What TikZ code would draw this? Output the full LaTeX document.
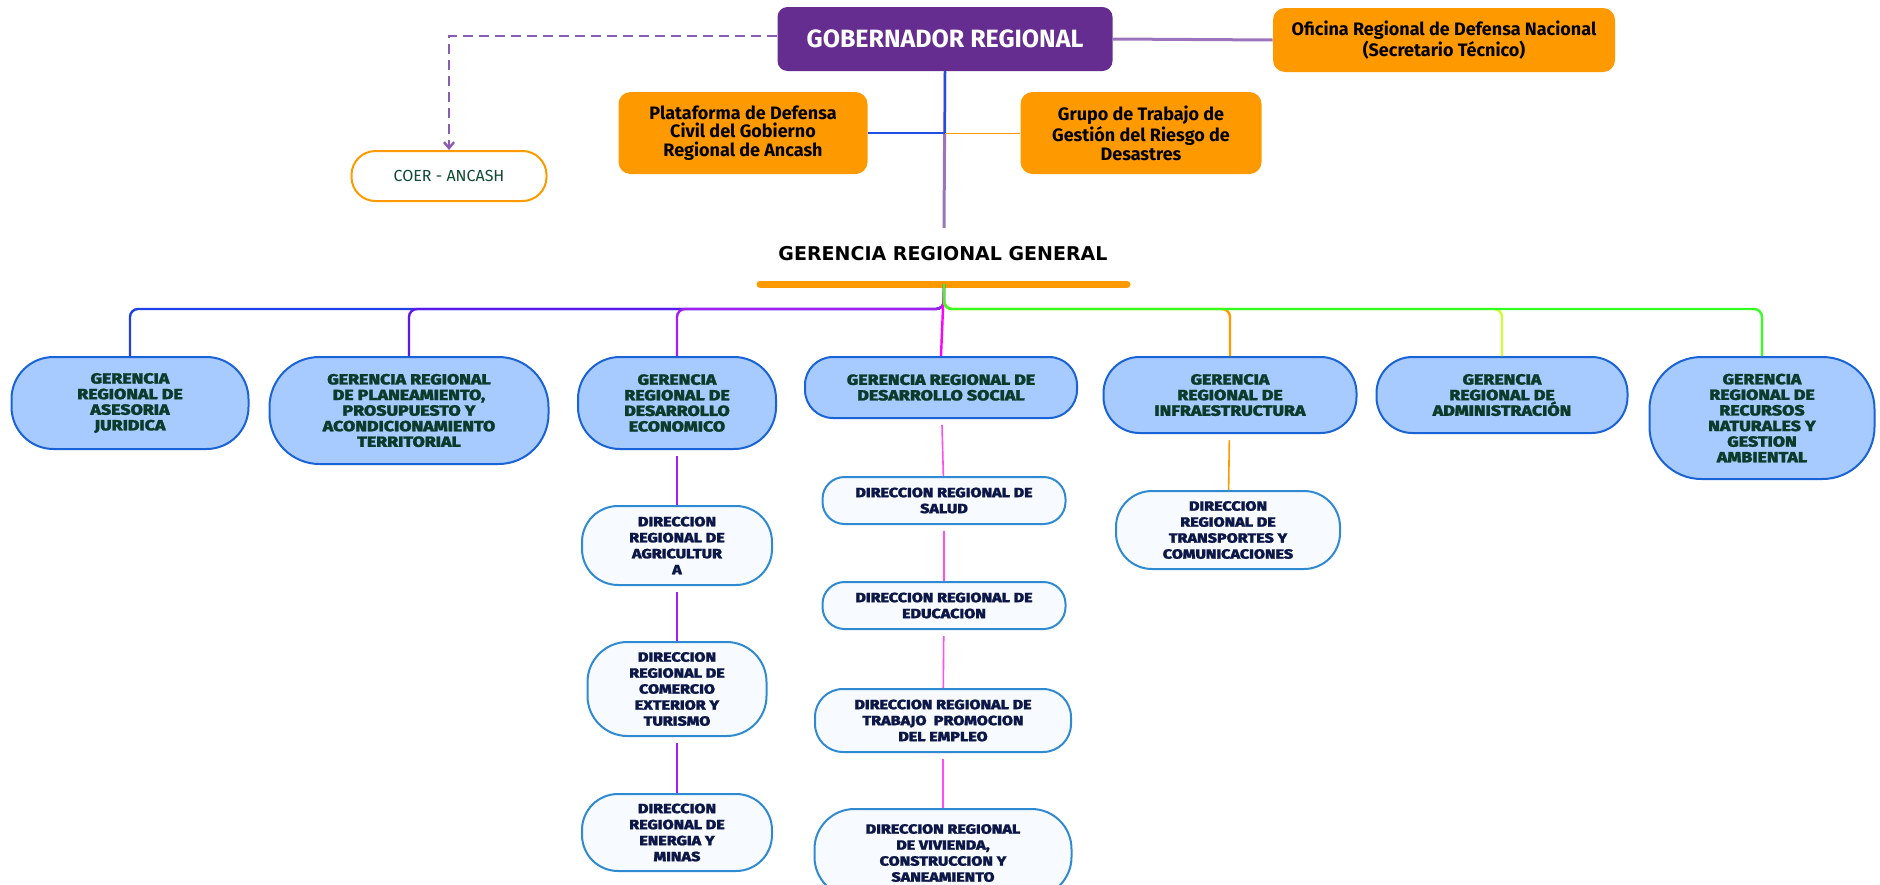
\documentclass[tikz,border=0pt]{standalone}
\usepackage{fontspec}
\setmainfont{Fira Sans}
\newfontfamily\heavyfont{Fira Sans ExtraBold}[FakeStretch=1.2, FakeBold=1.5]
\newfontfamily\titlefont{DejaVu Sans}
\usetikzlibrary{arrows.meta,positioning}

\definecolor{govpurple}{HTML}{662D91}
\definecolor{boxorange}{HTML}{FF9900}
\definecolor{linkpurple}{HTML}{9B74BD}
\definecolor{dashpurple}{HTML}{8A5CB3}
\definecolor{linkblue}{HTML}{1F4FE0}
\definecolor{gerfill}{HTML}{A8CBFF}
\definecolor{gerborder}{HTML}{1A63D6}
\definecolor{gertext}{HTML}{0B3B2A}
\definecolor{dirfill}{HTML}{F7FBFF}
\definecolor{dirborder}{HTML}{2F8AD2}
\definecolor{dirtext}{HTML}{0C1747}
\definecolor{coertext}{HTML}{0E4A32}
\definecolor{busA}{HTML}{2040E6}
\definecolor{busB}{HTML}{5A18EE}
\definecolor{busC}{HTML}{A21EF2}
\definecolor{busD}{HTML}{FF00FF}
\definecolor{busF}{HTML}{CCFF33}
\definecolor{busG}{HTML}{33FF22}
\definecolor{dirpink}{HTML}{FF4FF0}

\tikzset{
  orangebox/.style={fill=boxorange, rounded corners=6pt, align=center, inner sep=2pt,
    font=\bfseries\fontsize{9}{9.4}\selectfont},
  gerbox/.style={draw=gerborder, line width=1pt, fill=gerfill, align=center, inner sep=1pt,
    text=gertext, anchor=north, font=\heavyfont\fontsize{7.4}{7.8}\selectfont},
  dirbox/.style={draw=dirborder, line width=1pt, fill=dirfill, align=center, inner sep=1pt,
    text=dirtext, anchor=north, font=\heavyfont\fontsize{6.7}{8}\selectfont},
  buslink/.style={line width=1.2pt, rounded corners=4pt},
  dirlink/.style={line width=0.8pt, shorten <=3pt}
}

\begin{document}
\begin{tikzpicture}[x=0.5pt,y=-0.5pt]
  \useasboundingbox (0,0) rectangle (1880,884);

  % Top level
  \node[fill=govpurple, rounded corners=5pt, minimum width=167.5pt, minimum height=32pt,
    text=white, font=\bfseries\fontsize{12.5}{14}\selectfont] (gob) at (945,39) {GOBERNADOR REGIONAL};
  \node[orangebox, minimum width=171pt, minimum height=32pt] (oficina) at (1444,40)
    {Oficina Regional de Defensa Nacional\\(Secretario Técnico)};
  \node[draw=boxorange, line width=1pt, fill=white, rounded corners=12pt, minimum width=97.5pt,
    minimum height=25pt, text=coertext, font=\fontsize{8}{10}\selectfont] (coer) at (449,176) {COER - ANCASH};
  \node[orangebox, minimum width=124.5pt, minimum height=41pt] (plataforma) at (743,133)
    {Plataforma de Defensa\\Civil del Gobierno\\Regional de Ancash};
  \node[orangebox, minimum width=120.5pt, minimum height=41pt] (grupo) at (1141,133)
    {Grupo de Trabajo de\\Gestión del Riesgo de\\Desastres};
  \node[font=\titlefont\bfseries\fontsize{9.5}{11}\selectfont] (general) at (943,254) {GERENCIA REGIONAL GENERAL};

  \coordinate (trunkend) at (944,228);
  \coordinate (barL) at (760,284);
  \coordinate (barR) at (1127,284);
  \coordinate (root) at (944,284);
  \coordinate (bus) at (944,309);

  % links from the governor
  \draw[linkpurple, line width=1.5pt] (gob.east) -- (oficina.west);
  \draw[dashpurple, line width=1.2pt, dash pattern=on 5pt off 3pt, -{Straight Barb[length=3pt,width=5pt]}]
    ([yshift=1.5pt]gob.west) -| (coer.north);
  \draw[linkpurple, line width=1.5pt] (gob.south) -- (trunkend);
  \draw[linkblue, line width=0.8pt] (gob.south) -- (gob.south |- plataforma.east) -- (plataforma.east);
  \draw[boxorange, line width=0.5pt] (gob.south |- grupo.west) -- (grupo.west);
  \draw[boxorange, line width=3.5pt, line cap=round] (barL) -- (barR);

  % Gerencias
  \node[gerbox, minimum width=118.5pt, minimum height=46pt, rounded corners=21pt] (asesoria) at (130,356)
    {GERENCIA\\REGIONAL DE\\ASESORIA\\JURIDICA};
  \node[gerbox, minimum width=139.5pt, minimum height=53.5pt, rounded corners=25pt] (planeamiento) at (409,356)
    {GERENCIA REGIONAL\\DE PLANEAMIENTO,\\PROSUPUESTO Y\\ACONDICIONAMIENTO\\TERRITORIAL};
  \node[gerbox, minimum width=99pt, minimum height=46pt, rounded corners=21pt] (economico) at (677,356)
    {GERENCIA\\REGIONAL DE\\DESARROLLO\\ECONOMICO};
  \node[gerbox, minimum width=136pt, minimum height=30.5pt, rounded corners=14pt] (social) at (941,356)
    {GERENCIA REGIONAL DE\\DESARROLLO SOCIAL};
  \node[gerbox, minimum width=126.5pt, minimum height=38pt, rounded corners=18pt] (infraestructura) at (1230,356)
    {GERENCIA\\REGIONAL DE\\INFRAESTRUCTURA};
  \node[gerbox, minimum width=125.5pt, minimum height=38pt, rounded corners=18pt] (administracion) at (1502,356)
    {GERENCIA\\REGIONAL DE\\ADMINISTRACIÓN};
  \node[gerbox, minimum width=112.5pt, minimum height=61pt, rounded corners=26pt] (recursos) at (1762,356)
    {GERENCIA\\REGIONAL DE\\RECURSOS\\NATURALES Y\\GESTION\\AMBIENTAL};

  % bus
  \draw[buslink, busA] (root) -- (bus) -| (asesoria.north);
  \draw[buslink, busB] (root) -- (bus) -| (planeamiento.north);
  \draw[buslink, busC] (root) -- (bus) -| (economico.north);
  \draw[buslink, busD] (root) -- (social.north);
  \draw[buslink, boxorange] (root) -- (bus) -| (infraestructura.north);
  \draw[buslink, busF] (root) -- (bus) -| (administracion.north);
  \draw[buslink, busG] (root) -- (bus) -| (recursos.north);

  % Direcciones
  \node[dirbox, minimum width=95pt, minimum height=39.5pt, rounded corners=18pt] (agricultura) at (677,505)
    {DIRECCION\\REGIONAL DE\\AGRICULTUR\\A};
  \node[dirbox, minimum width=89.5pt, minimum height=47pt, rounded corners=20pt] (comercio) at (677,641)
    {DIRECCION\\REGIONAL DE\\COMERCIO\\EXTERIOR Y\\TURISMO};
  \node[dirbox, minimum width=95pt, minimum height=38.5pt, rounded corners=18pt] (energia) at (677,793)
    {DIRECCION\\REGIONAL DE\\ENERGIA Y\\MINAS};
  \node[dirbox, minimum width=121.5pt, minimum height=23.5pt, rounded corners=11pt] (salud) at (944,476)
    {DIRECCION REGIONAL DE\\SALUD};
  \node[dirbox, minimum width=121.5pt, minimum height=23.5pt, rounded corners=11pt] (educacion) at (944,581)
    {DIRECCION REGIONAL DE\\EDUCACION};
  \node[dirbox, minimum width=128pt, minimum height=31.5pt, rounded corners=14pt] (trabajo) at (943,688)
    {DIRECCION REGIONAL DE\\TRABAJO~ PROMOCION\\DEL EMPLEO};
  \node[dirbox, minimum width=128.5pt, minimum height=44pt, rounded corners=20pt] (vivienda) at (943,808)
    {DIRECCION REGIONAL\\DE VIVIENDA,\\CONSTRUCCION Y\\SANEAMIENTO};
  \node[dirbox, minimum width=112pt, minimum height=39pt, rounded corners=18pt] (transportes) at (1228,490)
    {DIRECCION\\REGIONAL DE\\TRANSPORTES Y\\COMUNICACIONES};

  \draw[dirlink, busC] (economico) -- (agricultura);
  \draw[dirlink, busC] (agricultura) -- (comercio);
  \draw[dirlink, busC] (comercio) -- (energia);
  \draw[dirlink, dirpink] (social) -- (salud);
  \draw[dirlink, dirpink] (salud) -- (educacion);
  \draw[dirlink, dirpink] (educacion) -- (trabajo);
  \draw[dirlink, dirpink] (trabajo) -- (vivienda);
  \draw[dirlink, boxorange] (infraestructura) -- (transportes);
\end{tikzpicture}
\end{document}
